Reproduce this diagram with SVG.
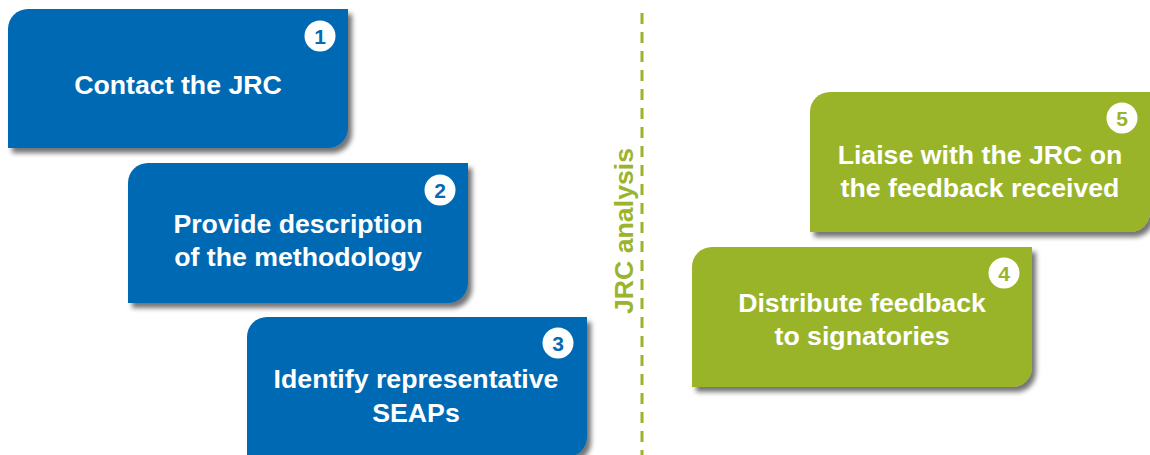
<svg xmlns="http://www.w3.org/2000/svg" width="1150" height="455" viewBox="0 0 1150 455">
<defs>
<filter id="sh" x="-10%" y="-10%" width="125%" height="130%">
<feGaussianBlur in="SourceAlpha" stdDeviation="2.5"/>
<feOffset dx="4" dy="5" result="b"/>
<feComponentTransfer><feFuncA type="linear" slope="0.55"/></feComponentTransfer>
<feMerge><feMergeNode/><feMergeNode in="SourceGraphic"/></feMerge>
</filter>
</defs>
<style>
.blue{fill:#0569b3}
.green{fill:#9ab42c}
.lbl{font-family:"Liberation Sans",Arial,sans-serif;font-weight:bold;font-size:26.7px;fill:#fff;text-anchor:middle}
.num{font-family:"Liberation Sans",Arial,sans-serif;font-weight:bold;font-size:21px;text-anchor:middle}
.nb{fill:#0569b3}
.ng{fill:#9ab42c}
.circ{fill:#fff}
</style>
<g id="connectors">
<line x1="642" y1="13" x2="642" y2="455" stroke="#9ab42c" stroke-width="3" stroke-dasharray="11 8"/>
</g>
<text x="0" y="0" transform="translate(633,231) rotate(-90)" font-family="'Liberation Sans',Arial,sans-serif" font-weight="bold" font-size="26.7" fill="#9ab42c" text-anchor="middle">JRC analysis</text>
<g id="node1">
<path class="blue" filter="url(#sh)" d="M28,9 H348 V128 A20,20 0 0 1 328,148 H8 V29 A20,20 0 0 1 28,9 Z"/>
<circle class="circ" cx="320" cy="36" r="15.5"/>
<text class="num nb" x="320" y="43.5">1</text>
<text class="lbl" x="178" y="94">Contact the JRC</text>
</g>
<g id="node2">
<path class="blue" filter="url(#sh)" d="M148,163 H468 V283 A20,20 0 0 1 448,303 H128 V183 A20,20 0 0 1 148,163 Z"/>
<circle class="circ" cx="440" cy="190" r="15.5"/>
<text class="num nb" x="440" y="197.5">2</text>
<text class="lbl" x="298" y="233">Provide description</text>
<text class="lbl" x="298" y="266">of the methodology</text>
</g>
<g id="node3">
<path class="blue" filter="url(#sh)" d="M267,317 H587 V437 A20,20 0 0 1 567,457 H247 V337 A20,20 0 0 1 267,317 Z"/>
<circle class="circ" cx="558" cy="343" r="15.5"/>
<text class="num nb" x="558" y="350.5">3</text>
<text class="lbl" x="416" y="388">Identify representative</text>
<text class="lbl" x="416" y="422">SEAPs</text>
</g>
<g id="node5">
<path class="green" filter="url(#sh)" d="M830,92 H1150 V212 A20,20 0 0 1 1130,232 H810 V112 A20,20 0 0 1 830,92 Z"/>
<circle class="circ" cx="1122" cy="118" r="15.5"/>
<text class="num ng" x="1122" y="125.5">5</text>
<text class="lbl" x="980" y="164">Liaise with the JRC on</text>
<text class="lbl" x="980" y="197">the feedback received</text>
</g>
<g id="node4">
<path class="green" filter="url(#sh)" d="M712,247 H1032 V367 A20,20 0 0 1 1012,387 H692 V267 A20,20 0 0 1 712,247 Z"/>
<circle class="circ" cx="1004" cy="273" r="15.5"/>
<text class="num ng" x="1004" y="280.5">4</text>
<text class="lbl" x="862" y="312">Distribute feedback</text>
<text class="lbl" x="862" y="345">to signatories</text>
</g>
</svg>
